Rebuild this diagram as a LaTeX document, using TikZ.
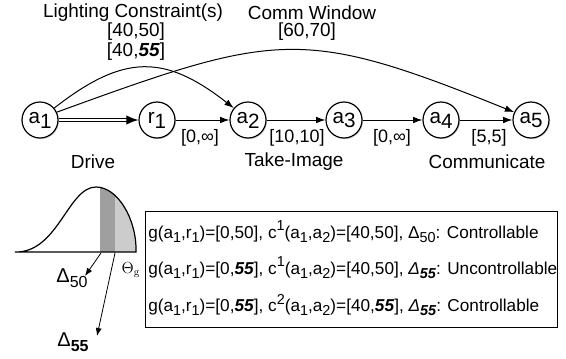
\documentclass[tikz,border=0pt]{standalone}
\usepackage{fontspec}
\setsansfont{Liberation Sans}
\usetikzlibrary{arrows.meta,shadows}

\newcommand{\lo}[1]{\raisebox{-0.45ex}{#1}}
\newcommand{\sbx}[1]{\raisebox{-0.5ex}{\fontsize{10.8}{10.8}\selectfont #1}}
\newcommand{\spx}[1]{\raisebox{0.8ex}{\fontsize{10.8}{10.8}\selectfont #1}}
\newcommand{\bi}[1]{\textbf{\textit{#1}}}

\tikzset{
  act/.style={draw, circle, line width=0.9pt, fill=white, inner sep=0pt, minimum size=27pt,
    font=\sffamily\fontsize{15.5}{17}\selectfont,
    drop shadow={shadow xshift=0.8pt, shadow yshift=-0.8pt, opacity=0.35}},
  arr/.style={line width=0.75pt, -{Latex[length=7pt,width=5pt]}},
  lbl/.style={inner sep=0.75pt},
  row/.style={anchor=west, inner sep=0.75pt, font=\sffamily\fontsize{12.9}{14}\selectfont},
}

\begin{document}
\begin{tikzpicture}[x=0.75pt,y=0.75pt,font=\sffamily\fontsize{14.2}{17}\selectfont]
\useasboundingbox (0,0) rectangle (566,-358);

% Activity nodes
\node[act] (a1) at (40,-120) {a\lo{1}};
\node[act] (r1) at (157,-120) {r\lo{1}};
\node[act] (a2) at (248,-120) {a\lo{2}};
\node[act] (a3) at (344,-120) {a\lo{3}};
\node[act] (a4) at (441,-120) {a\lo{4}};
\node[act] (a5) at (531,-120) {a\lo{5}};

% Straight Lines
\draw[line width=0.75pt, double, double distance=1.6pt, -{Latex[length=9pt,width=7pt]}] (a1) -- (r1);
\draw[arr] (r1) -- (a2);
\draw[arr] (a2) -- (a3);
\draw[arr] (a3) -- (a4);
\draw[arr] (a4) -- (a5);

% Curve Lines
\draw[arr] (a1.40) .. controls +(38:88) and +(142:88) .. (a2.140);
\draw[arr] (a1.25) .. controls +(20:235) and +(158:229) .. (a5.155);

% Text Node
\node[lbl] (lc) at (133,-13) {Lighting Constraint(s)};
\node[lbl] (lc1) at (136,-32) {[40,50]};
\node[lbl] (lc2) at (136,-52) {[40,\bi{55}]};
\node[lbl] (cw) at (312,-13) {Comm Window};
\node[lbl] (cw1) at (307,-32) {[60,70]};

% Text Node
\node[lbl, font=\sffamily\fontsize{13.5}{16}\selectfont] (w1) at (200,-138) {[0,∞]};
\node[lbl, font=\sffamily\fontsize{13.5}{16}\selectfont] (w2) at (297,-138) {[10,10]};
\node[lbl, font=\sffamily\fontsize{13.5}{16}\selectfont] (w3) at (392,-138) {[0,∞]};
\node[lbl, font=\sffamily\fontsize{13.5}{16}\selectfont] (w4) at (489,-138) {[5,5]};

% Text Node
\node[lbl] (drive) at (93,-162) {Drive};
\node[lbl] (take) at (294,-162) {Take-Image};
\node[lbl] (comm) at (487,-162) {Communicate};

% Shape: distribution with shaded tail
\begin{scope}
\clip (15,-252) .. controls (58,-253) and (68,-187) .. (96,-187)
  .. controls (118,-187) and (137,-220) .. (136,-252) -- cycle;
\fill[gray!75] (100,-253) rectangle (115,-180);
\fill[gray!40] (115,-253) rectangle (140,-180);
\end{scope}
\draw[line width=0.9pt] (15,-252) .. controls (58,-253) and (68,-187) .. (96,-187)
  .. controls (118,-187) and (137,-220) .. (136,-252) -- cycle;

\coordinate (t50) at (101,-253);
\coordinate (t55) at (115,-253);
\coordinate (e50) at (85,-276);
\coordinate (e55) at (97,-336);
\draw[line width=0.6pt, -{Latex[length=6pt,width=4.5pt]}] (t50) -- (e50);
\draw[line width=0.6pt, -{Latex[length=6pt,width=4.5pt]}] (t55) -- (e55);

\node[lbl, font=\sffamily\fontsize{15}{17}\selectfont] (d50) at (72,-278) {Δ\sbx{\fontsize{12}{12}\selectfont 50}};
\node[lbl, font=\sffamily\fontsize{15}{17}\selectfont] (d55) at (73,-342) {Δ\sbx{\fontsize{12}{12}\selectfont\bfseries 55}};
\node[lbl, font=\fontsize{12}{12}\selectfont] (theta) at (131,-270) {$\Theta_{\mathrm g}$};

% Cases
\node[draw, line width=0.75pt, anchor=north west, inner sep=0pt, minimum width=309pt, minimum height=87pt] (box) at (145,-211) {};
\node[row] (row1) at (147,-232) {g(a\sbx{1},r\sbx{1})=[0,50], c\spx{1}(a\sbx{1},a\sbx{2})=[40,50], Δ\sbx{50}: Controllable};
\node[row] (row2) at (147,-268) {g(a\sbx{1},r\sbx{1})=[0,\bi{55}], c\spx{1}(a\sbx{1},a\sbx{2})=[40,50], \textit{Δ}\sbx{\bi{55}}: Uncontrollable};
\node[row] (row3) at (147,-305) {g(a\sbx{1},r\sbx{1})=[0,\bi{55}], c\spx{2}(a\sbx{1},a\sbx{2})=[40,\bi{55}], \textit{Δ}\sbx{\bi{55}}: Controllable};
\end{tikzpicture}
\end{document}
